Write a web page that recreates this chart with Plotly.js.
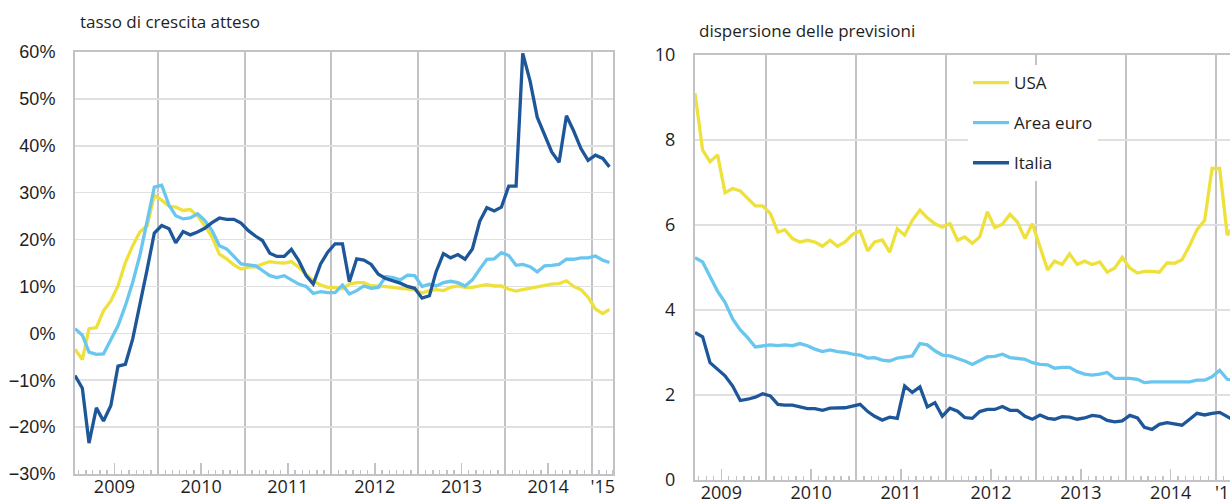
<!DOCTYPE html>
<html><head><meta charset="utf-8">
<script src="https://cdn.plot.ly/plotly-3.0.1.min.js"></script>
<style>html,body{margin:0;padding:0;overflow:hidden;background:#fff}</style>
</head><body><div id="chart" style="width:1230px;height:504px"></div>
<script>
// ---- data ----
const seriesNames = ['USA', 'Area euro', 'Italia'];
const leftTitle = 'tasso di crescita atteso';
const rightTitle = 'dispersione delle previsioni';
const leftStart = '2009-01';   // monthly, 75 points (Jan 2009 - Mar 2015)
const rightStart = '2009-03';  // monthly, 73 points (Mar 2009 - Mar 2015)

const growthUSA = [-3.4,-5.6,1.0,1.2,4.8,6.9,10.1,15.1,18.7,21.6,23.0,29.4,28.4,27.1,26.9,26.2,26.4,25.0,23.0,20.5,
  16.9,15.9,14.6,13.7,14.1,14.2,14.8,15.3,15.1,15.0,15.3,14.1,12.6,11.2,10.3,9.8,9.8,9.5,10.5,10.8,
  10.8,10.1,10.1,10.0,9.8,9.6,9.4,9.3,8.6,9.1,9.3,9.1,9.8,10.1,9.8,9.8,10.1,10.4,10.1,10.1,
  9.4,9.0,9.3,9.6,9.8,10.1,10.5,10.6,11.2,10.0,9.3,7.7,5.2,4.2,5.1];
const growthEuro = [1.0,-0.4,-4.0,-4.5,-4.4,-1.3,1.6,5.9,10.9,16.6,23.7,31.2,31.6,27.3,25.1,24.4,24.6,25.5,24.1,21.9,
  18.7,18.0,16.4,14.8,14.6,14.4,13.4,12.3,11.9,12.3,11.4,10.5,10.0,8.5,8.9,8.7,8.7,10.3,8.4,9.1,
  10.1,9.6,9.8,12.1,11.9,11.4,12.4,12.3,10.0,10.5,10.1,10.8,11.1,10.8,10.1,11.4,13.7,15.8,15.9,17.2,
  16.6,14.5,14.7,14.2,13.1,14.4,14.5,14.7,15.8,15.8,16.1,16.1,16.5,15.6,15.1];
const growthItalia = [-9.0,-11.7,-23.4,-15.9,-18.7,-15.4,-7.0,-6.6,-1.2,5.8,13.7,21.4,23.0,22.3,19.3,21.7,21.0,21.6,22.4,23.6,
  24.6,24.3,24.3,23.5,21.9,20.7,19.8,17.1,16.4,16.4,17.9,15.5,12.3,10.5,14.8,17.3,19.1,19.1,11.0,15.9,
  15.6,14.7,12.6,11.7,11.2,10.7,10.0,9.6,7.5,8.0,13.1,17.0,16.1,16.8,15.8,18.0,23.9,26.8,26.1,26.9,
  31.4,31.4,59.7,53.8,46.1,42.5,38.7,36.5,46.4,43.2,39.4,36.9,38.0,37.3,35.5];

const dispUSA = [9.1,7.76,7.49,7.65,6.76,6.86,6.8,6.62,6.45,6.45,6.27,5.83,5.89,5.68,5.6,5.64,5.6,5.5,5.64,5.5,
  5.6,5.78,5.86,5.39,5.6,5.65,5.36,5.91,5.76,6.11,6.35,6.17,6.03,5.95,6.03,5.64,5.72,5.57,5.72,6.31,
  5.94,6.02,6.25,6.07,5.68,6.03,5.48,4.94,5.15,5.07,5.32,5.07,5.15,5.07,5.13,4.89,4.99,5.24,4.99,4.87,
  4.91,4.91,4.89,5.11,5.1,5.18,5.52,5.89,6.11,7.33,7.33,5.76,6.0];
const dispEuro = [5.23,5.13,4.79,4.44,4.18,3.79,3.53,3.35,3.13,3.16,3.18,3.16,3.18,3.16,3.21,3.16,3.08,3.02,3.06,3.02,
  3.0,2.96,2.94,2.87,2.88,2.82,2.8,2.87,2.9,2.92,3.21,3.18,3.04,2.94,2.92,2.86,2.8,2.72,2.8,2.9,
  2.91,2.96,2.88,2.87,2.84,2.76,2.72,2.71,2.63,2.65,2.65,2.55,2.49,2.47,2.49,2.53,2.39,2.39,2.39,2.37,
  2.29,2.31,2.31,2.3,2.3,2.3,2.31,2.35,2.35,2.43,2.58,2.37,2.35];
const dispItalia = [3.47,3.37,2.76,2.61,2.45,2.21,1.87,1.9,1.95,2.03,1.98,1.78,1.76,1.76,1.73,1.68,1.68,1.64,1.69,1.7,
  1.7,1.74,1.78,1.61,1.5,1.41,1.48,1.45,2.21,2.06,2.19,1.72,1.82,1.5,1.69,1.62,1.47,1.45,1.61,1.66,
  1.66,1.73,1.64,1.64,1.5,1.43,1.53,1.45,1.43,1.49,1.48,1.43,1.46,1.52,1.5,1.4,1.37,1.39,1.52,1.46,
  1.24,1.19,1.31,1.35,1.33,1.29,1.43,1.57,1.53,1.57,1.59,1.48,1.4];

const yearLabels = ['2009', '2010', '2011', '2012', '2013', '2014'];
const yearLabelDates = ['2009-06-16', '2010-06-16', '2011-06-16', '2012-06-16', '2013-06-16', '2014-06-16'];
const shortLabel = ["'15"];
const shortLabelDates = ['2015-02-01'];

// ---- helpers ----
function monthSeq(start, n) {
  const [y0, m0] = start.split('-').map(Number);
  const out = [];
  for (let k = 0; k < n; k++) {
    const t = m0 - 1 + k;
    out.push((y0 + Math.floor(t / 12)) + '-' + String(t % 12 + 1).padStart(2, '0') + '-01');
  }
  return out;
}
const xLeft = monthSeq(leftStart, growthUSA.length);
const xRight = monthSeq(rightStart, dispUSA.length);

const colors = ['#EEE13C', '#69C6EF', '#1D5799'];
const W = 1230, H = 504;
const frame = '#c3c3c7', vgrid = '#c3c3c7', hgrid = '#e0e0e0';
const txt = '#1e1e1e';
const hum = 'Open Sans, Noto Sans, sans-serif';

const traces = [];
// empty helper traces so that the label-only overlay axes are created
[['x3', 'y'], ['x5', 'y'], ['x4', 'y2'], ['x6', 'y2']].forEach(([xa, ya]) => traces.push({
  type: 'scatter', mode: 'lines', x: [], y: [], xaxis: xa, yaxis: ya, showlegend: false, hoverinfo: 'skip'
}));
[growthUSA, growthEuro, growthItalia].forEach((s, k) => traces.push({
  type: 'scatter', mode: 'lines', x: xLeft, y: s, xaxis: 'x', yaxis: 'y',
  name: seriesNames[k], showlegend: false, line: {color: colors[k], width: 3.3}, hoverinfo: 'skip'
}));
[dispUSA, dispEuro, dispItalia].forEach((s, k) => traces.push({
  type: 'scatter', mode: 'lines', x: xRight, y: s, xaxis: 'x2', yaxis: 'y2',
  name: seriesNames[k], legendgroup: 'g' + k, showlegend: true,
  line: {color: colors[k], width: 3.3}, hoverinfo: 'skip'
}));

function baseX(domain, range, anchor) {
  return {
    type: 'date', domain: domain, range: range, anchor: anchor,
    tickmode: 'linear', tick0: '2008-12-16', dtick: 'M12',
    ticks: '', showticklabels: false,
    showgrid: true, gridcolor: vgrid, gridwidth: 2,
    showline: true, linecolor: frame, linewidth: 2, mirror: true, zeroline: false,
    minor: {tick0: '2008-12-16', dtick: 'M1', ticks: 'inside', ticklen: 4, tickwidth: 1.5, tickcolor: frame, showgrid: false},
    fixedrange: true
  };
}
function labelX(over, anchor, domain, range, vals, text, len) {
  return {
    type: 'date', overlaying: over, anchor: anchor, domain: domain, range: range,
    tickmode: 'array', tickvals: vals, ticktext: text,
    ticks: len ? 'inside' : '', ticklen: len || 0, tickwidth: 1.5, tickcolor: frame,
    showgrid: false, showline: false, zeroline: false, ticklabeloverflow: 'allow',
    tickfont: {family: hum, size: 18, color: txt}, fixedrange: true
  };
}
const rangeL = ['2009-01-01', '2015-03-16'];
const rangeR = ['2009-03-01', '2015-02-12'];
const domL = [75 / W, 613 / W], domR = [695 / W, 1];

const layout = {
  width: W, height: H, margin: {l: 0, r: 0, t: 0, b: 0},
  paper_bgcolor: '#fff', plot_bgcolor: '#fff', showlegend: true,
  xaxis: baseX(domL, rangeL, 'y'),
  xaxis2: baseX(domR, rangeR, 'y2'),
  xaxis3: labelX('x', 'y', domL, rangeL, yearLabelDates, yearLabels, 11),
  xaxis4: labelX('x2', 'y2', domR, rangeR, yearLabelDates, yearLabels, 11),
  xaxis5: labelX('x', 'y', domL, rangeL, shortLabelDates, shortLabel, 0),
  xaxis6: labelX('x2', 'y2', domR, rangeR, shortLabelDates, shortLabel, 0),
  yaxis: {
    domain: [(H - 474) / H, (H - 52) / H], anchor: 'x', range: [-30, 60], dtick: 10, ticksuffix: '%',
    showgrid: true, gridcolor: hgrid, gridwidth: 1.5, zeroline: false,
    showline: true, linecolor: frame, linewidth: 2, mirror: true, ticks: '', ticklabelstandoff: 14,
    tickfont: {family: 'Liberation Sans, Arial, sans-serif', size: 18, color: txt}, fixedrange: true
  },
  yaxis2: {
    domain: [(H - 480) / H, (H - 55) / H], anchor: 'x2', range: [0, 10], dtick: 2,
    showgrid: true, gridcolor: hgrid, gridwidth: 1.5, zeroline: false,
    showline: true, linecolor: frame, linewidth: 2, mirror: true, ticks: '', ticklabelstandoff: 14,
    tickfont: {family: hum, size: 18, color: txt}, fixedrange: true
  },
  legend: {
    x: 968 / W, y: 1 - 65 / H, xanchor: 'left', yanchor: 'top', bgcolor: '#fff', borderwidth: 0,
    font: {family: hum, size: 17, color: txt}, traceorder: 'grouped', tracegroupgap: 15, itemwidth: 36
  },
  annotations: [
    {text: leftTitle, xref: 'paper', yref: 'paper', x: 78 / W, y: 1 - 22 / H, xanchor: 'left', yanchor: 'middle',
     showarrow: false, font: {family: hum, size: 17, color: txt}},
    {text: rightTitle, xref: 'paper', yref: 'paper', x: 697 / W, y: 1 - 30 / H, xanchor: 'left', yanchor: 'middle',
     showarrow: false, font: {family: hum, size: 17, color: txt}}
  ]
};
Plotly.newPlot('chart', traces, layout, {displayModeBar: false, staticPlot: true});
</script></body></html>
